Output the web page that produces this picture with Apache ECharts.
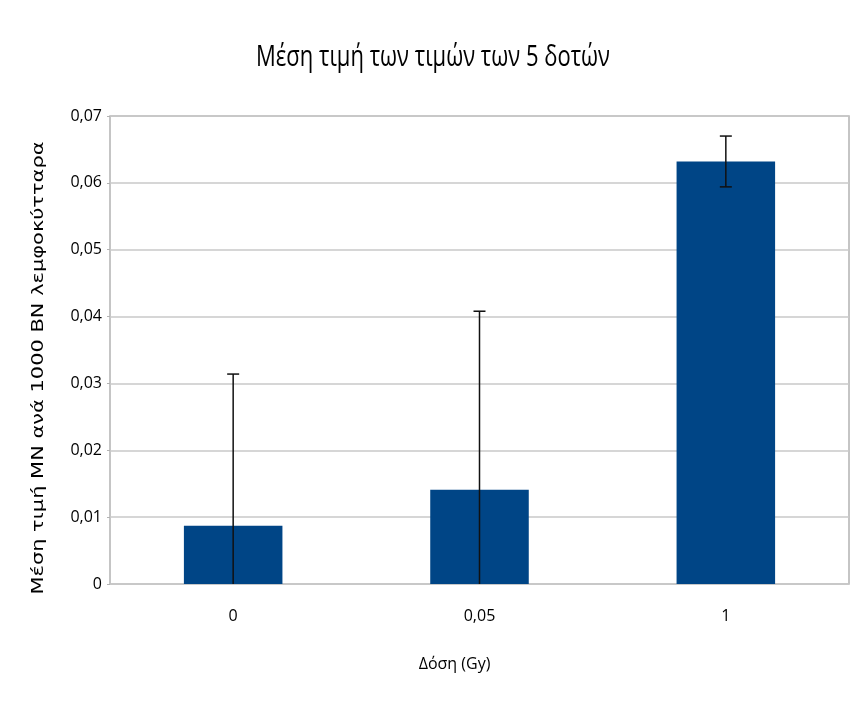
<!DOCTYPE html>
<html>
<head>
<meta charset="utf-8">
<script src="https://cdn.jsdelivr.net/npm/echarts@6/dist/echarts.min.js"></script>
<style>
  html, body { margin: 0; padding: 0; background: #fff; }
  #chart { width: 852px; height: 711px; }
</style>
</head>
<body>
<div id="chart"></div>
<script>
// Dose groups and the mean MN per 1000 BN lymphocytes, with their error
const categories = ['0', '0,05', '1'];
const meanValues = [0.0087, 0.0141, 0.0632];
const errorValues = [0.0227, 0.0267, 0.0038];

const titleText = 'Μέση τιμή των τιμών των 5 δοτών';
const yName = 'Μέση τιμή ΜΝ ανά 1000 ΒΝ λεμφοκύτταρα';
const xName = 'Δόση (Gy)';

const sans = '"Open Sans", sans-serif';

function fmt(v) {
  return v === 0 ? '0' : v.toFixed(2).replace('.', ',');
}

// width of a string in a given font, used to stretch the rotated axis title
function textWidth(str, font) {
  const ctx = document.createElement('canvas').getContext('2d');
  ctx.font = font;
  return ctx.measureText(str).width;
}

const yNameFont = '15px "DejaVu Sans", Verdana, sans-serif';
const yNameStretch = 453 / textWidth(yName, yNameFont);

const errorData = categories.map((c, i) => [i, meanValues[i] - errorValues[i], meanValues[i] + errorValues[i]]);

const chart = echarts.init(document.getElementById('chart'), null, { renderer: 'canvas' });
chart.setOption({
  animation: false,
  backgroundColor: '#ffffff',
  graphic: [
    {
      type: 'text',
      x: 433, y: 58,
      scaleY: 1.35,
      style: {
        text: titleText,
        font: 'normal 22px ' + sans,
        fill: '#000',
        textAlign: 'center',
        textVerticalAlign: 'middle'
      }
    },
    {
      type: 'text',
      x: 39, y: 368,
      rotation: Math.PI / 2,
      scaleX: yNameStretch,
      style: {
        text: yName,
        font: yNameFont,
        fill: '#000',
        textAlign: 'center',
        textVerticalAlign: 'middle'
      }
    }
  ],
  grid: { left: 110, right: 3, top: 116, bottom: 127, show: true, borderColor: '#b3b3b3', borderWidth: 1.5 },
  xAxis: {
    type: 'category',
    data: categories,
    name: xName,
    nameLocation: 'middle',
    nameGap: 72,
    nameTextStyle: { fontFamily: sans, fontSize: 16, color: '#000', padding: [0, 50, 0, 0] },
    axisLine: { show: false },
    axisTick: { show: false },
    axisLabel: { fontFamily: sans, fontSize: 16, color: '#000', margin: 24 }
  },
  yAxis: {
    type: 'value',
    min: 0,
    max: 0.07,
    interval: 0.01,
    axisLine: { show: false },
    axisTick: { show: true, length: 3, lineStyle: { color: '#b3b3b3' } },
    splitLine: { lineStyle: { color: '#c8c8c8', width: 1.5 } },
    axisLabel: {
      fontFamily: sans, fontSize: 16, color: '#000', margin: 8,
      formatter: v => fmt(v)
    }
  },
  series: [
    {
      type: 'bar',
      data: meanValues,
      barWidth: '40%',
      itemStyle: { color: '#004586' }
    },
    {
      type: 'custom',
      clip: true,
      data: errorData,
      z: 5,
      renderItem: function (params, api) {
        const x = api.value(0);
        const lo = api.coord([x, api.value(1)]);
        const hi = api.coord([x, api.value(2)]);
        const half = 6;
        const style = { stroke: '#111', lineWidth: 1.5 };
        return {
          type: 'group',
          children: [
            { type: 'line', shape: { x1: hi[0], y1: hi[1], x2: lo[0], y2: lo[1] }, style },
            { type: 'line', shape: { x1: hi[0] - half, y1: hi[1], x2: hi[0] + half, y2: hi[1] }, style },
            { type: 'line', shape: { x1: lo[0] - half, y1: lo[1], x2: lo[0] + half, y2: lo[1] }, style }
          ]
        };
      }
    }
  ]
});
</script>
</body>
</html>
